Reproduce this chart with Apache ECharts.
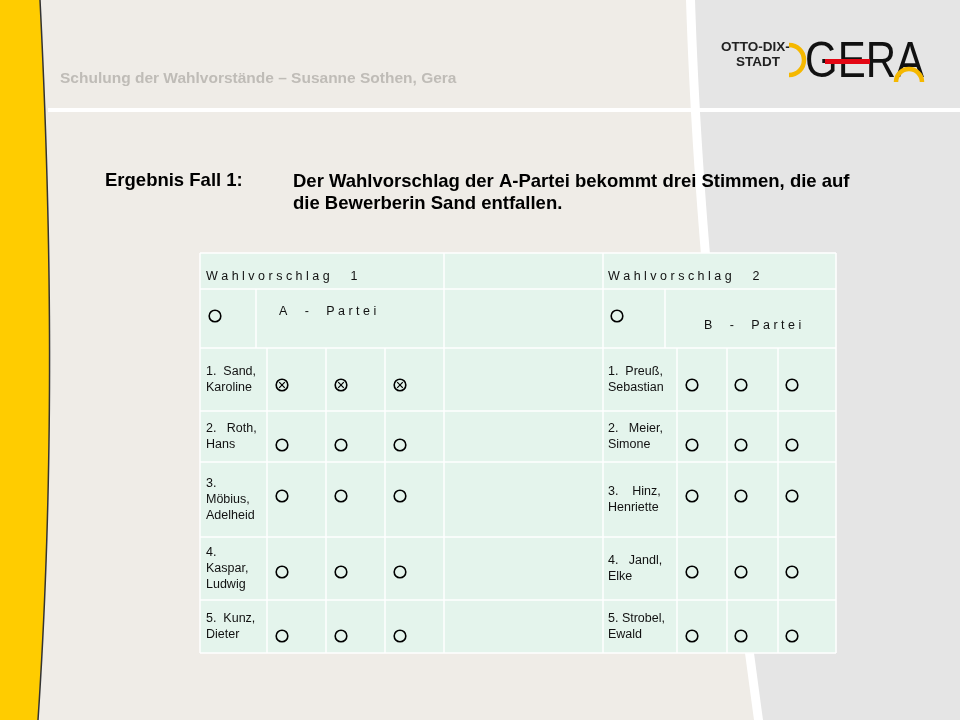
<!DOCTYPE html>
<html><head><meta charset="utf-8">
<script src="https://cdn.jsdelivr.net/npm/echarts@6/dist/echarts.min.js"></script>
<style>html,body{margin:0;padding:0;}#c{width:960px;height:720px;}</style>
</head><body><div id="c"></div>
<script>
const headerLeft = 'W a h l v o r s c h l a g      1';
const headerRight = 'W a h l v o r s c h l a g      2';
const partyLeft = 'A     -     P a r t e i';
const partyRight = 'B     -     P a r t e i';
const namesLeft = ['1.  Sand,\nKaroline','2.   Roth,\nHans','3.\nMöbius,\nAdelheid','4.\nKaspar,\nLudwig','5.  Kunz,\nDieter'];
const namesRight = ['1.  Preuß,\nSebastian','2.   Meier,\nSimone','3.    Hinz,\nHenriette','4.   Jandl,\nElke','5. Strobel,\nEwald'];
const votesLeft = [[1,1,1],[0,0,0],[0,0,0],[0,0,0],[0,0,0]];
const votesRight = [[0,0,0],[0,0,0],[0,0,0],[0,0,0],[0,0,0]];
const titleLabel = 'Ergebnis Fall 1:';
const titleText = 'Der Wahlvorschlag der A-Partei bekommt drei Stimmen, die auf\ndie Bewerberin Sand entfallen.';
const headerText = 'Schulung der Wahlvorstände – Susanne Sothen, Gera';

const rowsY = [253,289,348,411,462,537,600,653];
const F = '"Liberation Sans", Arial, sans-serif';
const g = [];
function bez(p0,p1,p2,p3,n){const out=[];for(let i=0;i<=n;i++){const t=i/n,u=1-t;
  out.push([u*u*u*p0[0]+3*u*u*t*p1[0]+3*u*t*t*p2[0]+t*t*t*p3[0],u*u*u*p0[1]+3*u*u*t*p1[1]+3*u*t*t*p2[1]+t*t*t*p3[1]]);}return out;}
function curve(dx){return bez([686+dx,0],[694+dx,250],[724+dx,500],[754+dx,720],40);}
g.push({type:'rect',shape:{x:0,y:0,width:960,height:720},style:{fill:'#efece7'}});
g.push({type:'polygon',shape:{points:curve(6).concat([[960,720],[960,0]])},style:{fill:'#e5e5e5'}});
g.push({type:'polygon',shape:{points:curve(0).concat(curve(9).reverse())},style:{fill:'#ffffff'}});
g.push({type:'rect',shape:{x:48,y:108,width:912,height:4},style:{fill:'#ffffff'}});
const yc = bez([40,0],[50,200],[56,450],[38,720],40);
g.push({type:'polygon',shape:{points:[[0,0]].concat(yc).concat([[0,720]])},style:{fill:'#ffcc00'}});
g.push({type:'polyline',shape:{points:yc},style:{fill:null,stroke:'#333',lineWidth:1.5}});
g.push({type:'text',x:60,y:71,style:{text:headerText,font:'bold 15.5px '+F,fill:'#bfbcb7'}});
// logo
g.push({type:'text',x:721,y:40,style:{text:'OTTO-DIX-\n    STADT',font:'bold 13.5px '+F,fill:'#222',lineHeight:15}});
g.push({type:'arc',shape:{cx:789,cy:60,r:15,startAngle:-Math.PI/2,endAngle:Math.PI/2},style:{stroke:'#f5b800',lineWidth:4.5,fill:null}});
g.push({type:'text',x:805,y:38,scaleX:0.84,originX:0,originY:0,style:{text:'GERA',font:'50px '+F,fill:'#111'}});
g.push({type:'rect',shape:{x:825,y:59,width:45,height:5},style:{fill:'#e30613'}});
g.push({type:'arc',shape:{cx:909,cy:82,r:13,startAngle:Math.PI,endAngle:2*Math.PI},style:{stroke:'#f5b800',lineWidth:4.5,fill:null}});
// title
g.push({type:'text',x:105,y:171,style:{text:titleLabel,font:'bold 18.5px '+F,fill:'#000'}});
g.push({type:'text',x:293,y:171,style:{text:titleText,font:'bold 18.5px '+F,fill:'#000',lineHeight:22}});
// table
g.push({type:'rect',shape:{x:200,y:253,width:636,height:400},style:{fill:'#e4f4ec'}});
const W = '#ffffff';
function vline(x,y1,y2){g.push({type:'line',shape:{x1:x,y1:y1,x2:x,y2:y2},style:{stroke:W,lineWidth:1.5}});}
function hline(x1,x2,y){g.push({type:'line',shape:{x1:x1,y1:y,x2:x2,y2:y},style:{stroke:W,lineWidth:1.5}});}
rowsY.forEach(y=>hline(200,836,y));
[200,444,603,836].forEach(x=>vline(x,253,653));
vline(256,289,348); vline(665,289,348);
[267,326,385].forEach(x=>vline(x,348,653));
[677,727,778].forEach(x=>vline(x,348,653));
function cellText(x,y,t,size){g.push({type:'text',x:x,y:y,style:{text:t,font:(size||12.5)+'px '+F,fill:'#111',lineHeight:16,verticalAlign:'middle'}});}
cellText(206,277,headerLeft); cellText(608,277,headerRight);
cellText(279,312,partyLeft); cellText(704,326,partyRight);
function mark(cx,cy,crossed){
  g.push({type:'circle',shape:{cx:cx,cy:cy,r:5.8},style:{fill:null,stroke:'#000',lineWidth:1.6}});
  if(crossed){g.push({type:'line',shape:{x1:cx-2.8,y1:cy-2.8,x2:cx+2.8,y2:cy+2.8},style:{stroke:'#000',lineWidth:1.2}});
    g.push({type:'line',shape:{x1:cx-2.8,y1:cy+2.8,x2:cx+2.8,y2:cy-2.8},style:{stroke:'#000',lineWidth:1.2}});}
}
mark(215,316,false); mark(617,316,false);
const markXL=[282,341,400], markXR=[692,741,792];
const markY=[385,445,496,572,636];
for(let i=0;i<5;i++){
  const top=rowsY[i+2], bot=rowsY[i+3];
  cellText(206,(top+bot)/2,namesLeft[i]);
  cellText(608,(top+bot)/2,namesRight[i]);
  for(let j=0;j<3;j++){mark(markXL[j],markY[i],votesLeft[i][j]===1);mark(markXR[j],markY[i],votesRight[i][j]===1);}
}
const chart = echarts.init(document.getElementById('c'));
chart.setOption({animation:false,graphic:{elements:g}});
</script></body></html>
